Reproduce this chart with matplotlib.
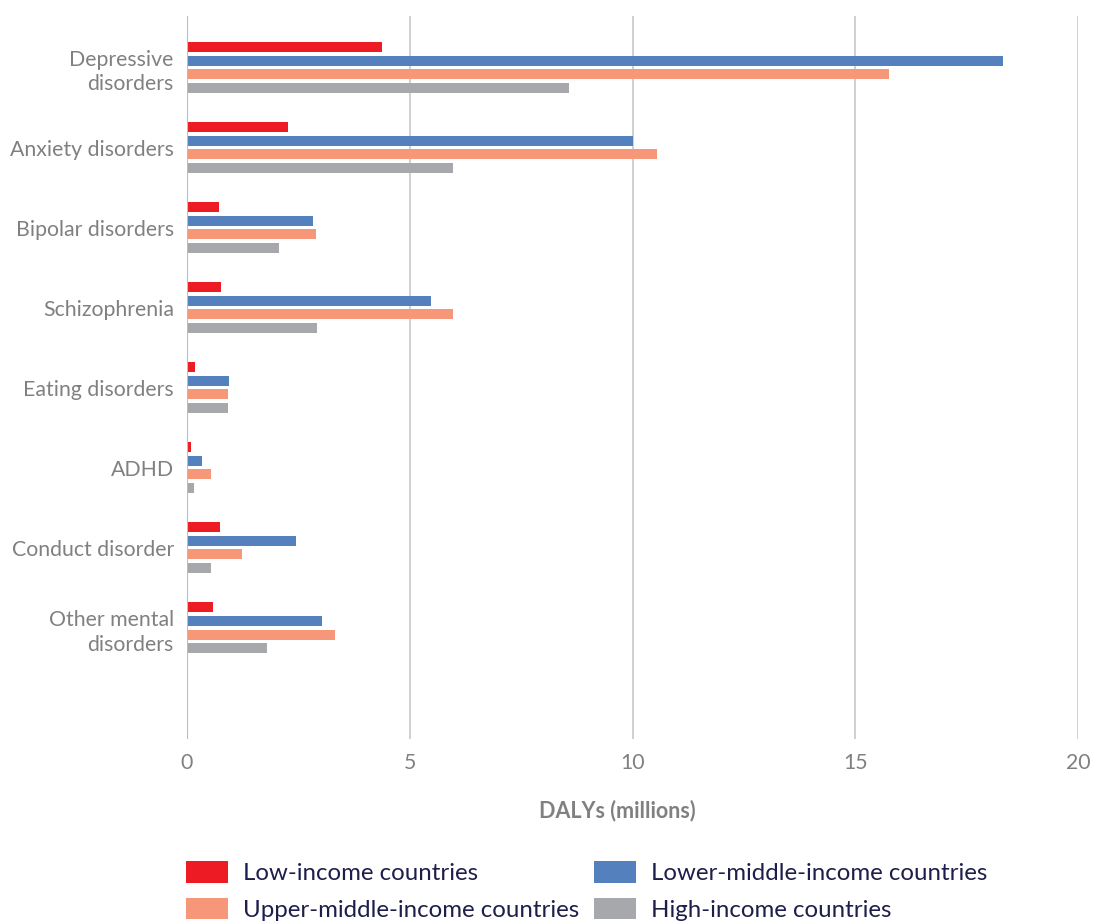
import matplotlib
matplotlib.use("Agg")
import matplotlib.pyplot as plt
from matplotlib.patches import Patch
import numpy as np

plt.rcParams['font.family'] = ['Lato', 'DejaVu Sans']

categories = ["Depressive\ndisorders", "Anxiety disorders", "Bipolar disorders",
              "Schizophrenia", "Eating disorders", "ADHD", "Conduct disorder",
              "Other mental\ndisorders"]
series_names = ["Low-income countries", "Lower-middle-income countries",
                "Upper-middle-income countries", "High-income countries"]
low_income = [4.38, 2.27, 0.72, 0.76, 0.18, 0.09, 0.74, 0.58]
lower_middle = [18.31, 10.02, 2.83, 5.48, 0.94, 0.34, 2.45, 3.03]
upper_middle = [15.75, 10.56, 2.90, 5.98, 0.92, 0.54, 1.24, 3.33]
high_income = [8.58, 5.96, 2.07, 2.92, 0.92, 0.16, 0.54, 1.80]
xticks = [0, 5, 10, 15, 20]

colors = ["#ED1C24", "#5480BD", "#F7977A", "#A7A8AC"]
W, H = 1096, 921
fig = plt.figure(figsize=(W/100, H/100), dpi=100)
ax = fig.add_axes([187/W, 1-739/H, (1078-187)/W, (739-16)/H])

y = np.arange(len(categories))
offsets = np.array([-1.5, -0.5, 0.5, 1.5]) * 0.169
for vals, off, c, name in zip([low_income, lower_middle, upper_middle, high_income],
                              offsets, colors, series_names):
    ax.barh(y + off, vals, height=0.125, color=c, label=name, zorder=3)

ax.set_ylim(8.39, -0.644)
ax.set_xlim(0, 20)
ax.set_xticks(xticks)
ax.set_xticklabels([str(t) for t in xticks])
ax.set_yticks(y)
ax.set_yticklabels(categories, linespacing=1.3)
ax.grid(axis='x', color='#C8C8C8', linewidth=1.2, zorder=0)
for s in ax.spines.values():
    s.set_visible(False)
ax.axvline(0, color='#BDBDBD', linewidth=1.5, zorder=4)
ax.tick_params(axis='both', length=0, labelsize=15.3, colors='#808080')
ax.tick_params(axis='x', pad=10)
ax.tick_params(axis='y', pad=9.5)
ax.set_xlabel("DALYs (millions)", fontsize=15.5, fontweight='bold', color='#808080')
ax.xaxis.set_label_coords((617-187)/891, -(800-739)/723)

# legend: row-wise order Low, Lower-middle / Upper-middle, High
order = [0, 2, 1, 3]
handles = [Patch(facecolor=colors[i], edgecolor='none') for i in order]
labels = [series_names[i] for i in order]
leg = fig.legend(handles, labels, loc='upper left', bbox_to_anchor=(186/W, 1-861/H),
                 ncol=2, frameon=False, fontsize=17.3, handlelength=1.75, handleheight=1.0,
                 columnspacing=0.62, labelspacing=0.58, handletextpad=0.62,
                 borderaxespad=0, borderpad=0)
for t in leg.get_texts():
    t.set_color('#1E1E4B')

fig.savefig("out.png", dpi=100)
